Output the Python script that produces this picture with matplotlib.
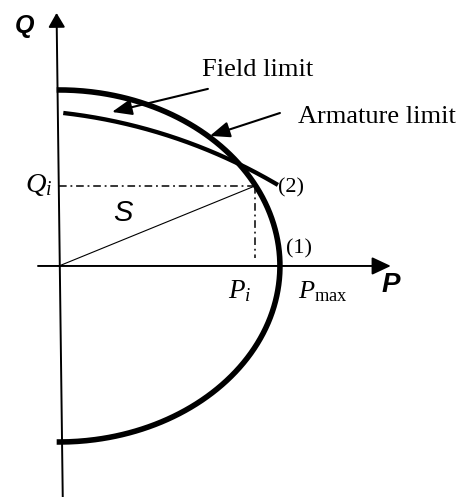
import numpy as np
import matplotlib
matplotlib.use("Agg")
import matplotlib.pyplot as plt

# ---------------- data (P-Q plane, normalised so S_rated = 1) ----------------
ARMATURE_RADII = (1.0, 1.0)          # armature-limit circle (P, Q radii)
ARMATURE_ANGLES = (90.6, -90.6)      # arc drawn, degrees
FIELD_CENTER = (-0.259, -2.199)      # field-limit circle centre
FIELD_RADII = (2.459, 3.088)
FIELD_ANGLES = (83.5, 59.45)         # arc drawn, degrees
P_i = 0.887
Q_i = 0.4545
P_AXIS = (-0.095, 1.502)
Q_AXIS_BOTTOM = (0.017, -1.3125)
Q_AXIS_TOP = (-0.011, 1.4375)
FIELD_ARROW = ((0.674, 1.006), (0.240, 0.875))
ARMATURE_ARROW = ((1.000, 0.869), (0.683, 0.739))

plt.rcParams["mathtext.fontset"] = "custom"
plt.rcParams["mathtext.rm"] = "Liberation Serif"
plt.rcParams["mathtext.it"] = "Liberation Serif:italic"

fig = plt.figure(figsize=(4.60, 4.97), dpi=100)
ax = fig.add_axes([0, 0, 1, 1])
ax.set_xlim(-0.267, 1.815)
ax.set_ylim(-1.3125, 1.511)
ax.axis("off")

# axes with arrows
ax.annotate("", xy=(P_AXIS[1], 0), xytext=(P_AXIS[0], 0),
            arrowprops=dict(arrowstyle="-|>,head_length=0.8,head_width=0.375",
                            mutation_scale=14.4, lw=1.4, color="black",
                            shrinkA=0, shrinkB=0))
ax.annotate("", xy=Q_AXIS_TOP, xytext=Q_AXIS_BOTTOM,
            arrowprops=dict(arrowstyle="-|>,head_length=0.6,head_width=0.35",
                            mutation_scale=14.4, lw=1.4, color="black",
                            shrinkA=0, shrinkB=0))

# armature limit
t = np.radians(np.linspace(ARMATURE_ANGLES[0], ARMATURE_ANGLES[1], 400))
ax.plot(ARMATURE_RADII[0] * np.cos(t), ARMATURE_RADII[1] * np.sin(t),
        color="black", lw=4.0, solid_capstyle="butt")

# field limit
t = np.radians(np.linspace(FIELD_ANGLES[0], FIELD_ANGLES[1], 300))
ax.plot(FIELD_CENTER[0] + FIELD_RADII[0] * np.cos(t),
        FIELD_CENTER[1] + FIELD_RADII[1] * np.sin(t),
        color="black", lw=3.1, solid_capstyle="butt")

# operating point construction
dd = (0, (5, 2.5, 1.2, 2.5))
ax.plot([0, P_i], [Q_i, Q_i], color="black", lw=1.1, linestyle=dd)
ax.plot([P_i, P_i], [Q_i, 0.045], color="black", lw=1.1, linestyle=dd)
ax.plot([0, P_i], [0, Q_i], color="black", lw=0.8)

# annotation arrows
for (tail, tip) in (FIELD_ARROW, ARMATURE_ARROW):
    ax.annotate("", xy=tip, xytext=tail,
                arrowprops=dict(arrowstyle="-|>,head_length=0.55,head_width=0.22",
                                mutation_scale=22, lw=1.5, color="black",
                                shrinkA=0, shrinkB=0))

serif = "Liberation Serif"
sans = "Liberation Sans"
ax.text(0.647, 1.080, "Field limit", family=serif, fontsize=19, va="baseline", ha="left")
ax.text(1.081, 0.813, "Armature limit", family=serif, fontsize=19, va="baseline", ha="left")
ax.text(0.992, 0.443, "(2)", family=serif, fontsize=16, va="center", ha="left")
ax.text(1.027, 0.097, "(1)", family=serif, fontsize=16, va="center", ha="left")
ax.text(-0.030, 0.420, r"$Q_i$", fontsize=20.5, va="baseline", ha="right")
ax.text(0.765, -0.182, r"$P_i$", fontsize=19.5, va="baseline", ha="left")
ax.text(1.081, -0.182, r"$P_{\rm max}$", fontsize=19, va="baseline", ha="left")
ax.text(0.290, 0.301, "S", family=sans, style="italic", fontsize=21, va="center", ha="center")
ax.text(-0.201, 1.364, "Q", family=sans, style="italic", weight="bold", fontsize=18,
        va="center", ha="left")
ax.text(1.500, -0.110, "P", family=sans, style="italic", weight="bold", fontsize=20,
        va="center", ha="center")

fig.savefig("out.png", dpi=100)
